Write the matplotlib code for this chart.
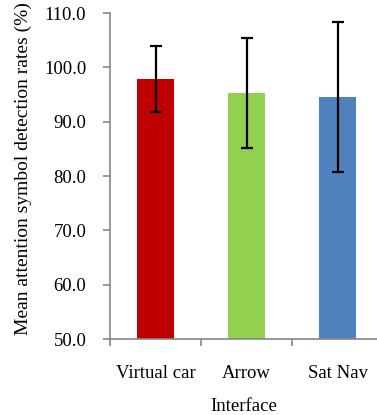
import matplotlib
matplotlib.use("Agg")
import matplotlib.pyplot as plt
import numpy as np

# data
interfaces = ["Virtual car", "Arrow", "Sat Nav"]
mean_rates = [97.9, 95.3, 94.6]
err_rates = [6.1, 10.1, 13.8]
bar_colors = ["#C00000", "#92D050", "#4F81BD"]
y_ticks = [50.0, 60.0, 70.0, 80.0, 90.0, 100.0, 110.0]

plt.rcParams['font.family'] = ['Liberation Serif', 'DejaVu Serif']

fig = plt.figure(figsize=(3.77, 4.15), dpi=100)
W, H = 377, 415
# axes box in pixels: left 110, right 383, top 13, bottom 339
ax = fig.add_axes([110 / W, (H - 339) / H, 273 / W, 326 / H])

x = np.arange(len(interfaces))
ax.bar(x, mean_rates, width=0.41, color=bar_colors, zorder=2)
ax.errorbar(x, mean_rates, yerr=err_rates, fmt='none', ecolor='black',
            elinewidth=1.6, capsize=4.5, capthick=1.6, zorder=3)

ax.set_xlim(-0.5, 2.5)
ax.set_ylim(50, 110)
ax.set_yticks(y_ticks)
ax.set_yticklabels([f"{v:.1f}" for v in y_ticks], fontsize=13.5)

ax.set_xticks([-0.5, 0.5, 1.5, 2.5])
ax.set_xticklabels([])
ax.set_xticks(x, minor=True)
ax.set_xticklabels(interfaces, minor=True, fontsize=13.5)
ax.tick_params(axis='x', which='minor', length=0, pad=19)
ax.tick_params(axis='x', which='major', length=5, color='#868686', width=1.2)
ax.tick_params(axis='y', length=5, color='#868686', width=1.2, pad=12)

for s in ['top', 'right']:
    ax.spines[s].set_visible(False)
for s in ['left', 'bottom']:
    ax.spines[s].set_color('#868686')
    ax.spines[s].set_linewidth(1.2)

ax.set_xlabel("Interface", fontsize=13.5)
ax.xaxis.set_label_coords((244 - 110) / 273, (339 - 398) / 326)
ax.set_ylabel("Mean attention symbol detection rates (%)", fontsize=14)
ax.yaxis.set_label_coords((32 - 110) / 273, (339 - 169) / 326)

fig.savefig("out.png", dpi=100)
